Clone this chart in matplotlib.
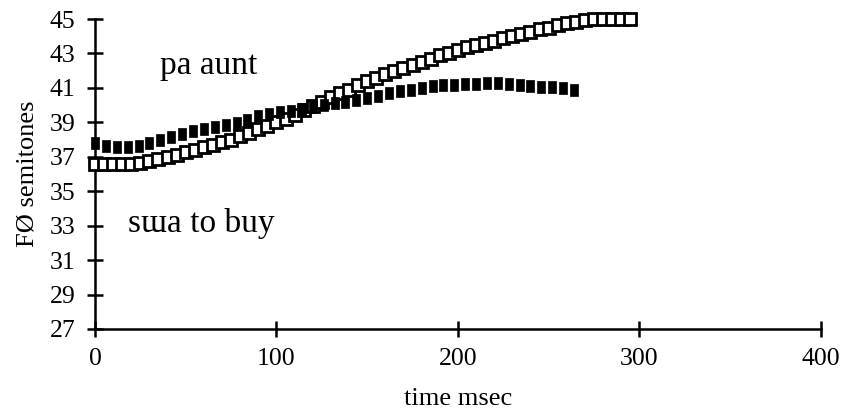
import matplotlib
matplotlib.use("Agg")
import matplotlib.pyplot as plt

plt.rcParams['font.family'] = ['Liberation Serif', 'DejaVu Serif']

# ---------- data ----------
# hollow squares (upper, rising curve)
t_open = [0, 5, 10, 15, 20, 25, 30, 35, 40, 45, 50, 55, 60, 65, 70, 75, 80, 85, 90, 95,
          100, 105, 110, 115, 120, 125, 130, 135, 140, 145, 150, 155, 160, 165, 170, 175,
          180, 185, 190, 195, 200, 205, 210, 215, 220, 225, 230, 235, 240, 245, 250, 255,
          260, 265, 270, 275, 280, 285, 290, 295]
f0_open = [36.6, 36.6, 36.6, 36.6, 36.6, 36.65, 36.75, 36.85, 37.0, 37.1, 37.25, 37.4,
           37.55, 37.7, 37.85, 38.0, 38.2, 38.4, 38.6, 38.8, 39.0, 39.2, 39.45, 39.7,
           39.95, 40.2, 40.45, 40.7, 40.9, 41.15, 41.4, 41.6, 41.8, 42.0, 42.15, 42.35,
           42.5, 42.7, 42.9, 43.05, 43.2, 43.35, 43.5, 43.6, 43.75, 43.9, 44.0, 44.15,
           44.25, 44.4, 44.5, 44.65, 44.75, 44.85, 44.95, 45.0, 45.0, 45.0, 45.0, 45.0]

# filled squares (flatter curve)
t_fill = [0, 6, 12, 18, 24, 30, 36, 42, 48, 54, 60, 66, 72, 78, 84, 90, 96, 102, 108, 114,
          120, 126, 132, 138, 144, 150, 156, 162, 168, 174, 180, 186, 192, 198, 204, 210,
          216, 222, 228, 234, 240, 246, 252, 258, 264]
f0_fill = [37.8, 37.6, 37.55, 37.55, 37.65, 37.8, 37.95, 38.15, 38.35, 38.5, 38.6, 38.75,
           38.85, 38.95, 39.15, 39.35, 39.5, 39.6, 39.65, 39.75, 39.9, 40.0, 40.1, 40.2,
           40.3, 40.4, 40.55, 40.7, 40.8, 40.9, 41.0, 41.1, 41.15, 41.15, 41.2, 41.25,
           41.3, 41.3, 41.25, 41.15, 41.1, 41.05, 41.05, 41.0, 40.9]

x_ticks = [0, 100, 200, 300, 400]
y_ticks = [27, 29, 31, 33, 35, 37, 39, 41, 43, 45]

# ---------- figure ----------
fig = plt.figure(figsize=(8.45, 4.18), dpi=100)
ax = fig.add_axes([0.1124, 0.213, 0.859, 0.7415])

# tall narrow rectangle for the filled points
rect = [(-0.36, -0.5), (0.36, -0.5), (0.36, 0.5), (-0.36, 0.5), (-0.36, -0.5)]

ax.plot(t_open, f0_open, ls='none', marker='s', ms=8.5, mfc='white', mec='black',
        mew=2.0, clip_on=False, zorder=3)
ax.plot(t_fill, f0_fill, ls='none', marker=rect, ms=8, mfc='black', mec='black',
        mew=0.5, clip_on=False, zorder=4)

ax.set_xlim(0, 400)
ax.set_ylim(27, 45)
ax.set_xticks(x_ticks)
ax.set_yticks(y_ticks)

for s in ('top', 'right'):
    ax.spines[s].set_visible(False)
for s in ('left', 'bottom'):
    ax.spines[s].set_linewidth(1.8)

ax.tick_params(direction='inout', length=12, width=1.8, labelsize=18.5)
ax.tick_params(axis='x', pad=8)
ax.tick_params(axis='y', pad=8)

ax.set_xlabel('time msec', fontsize=19, labelpad=13)
ax.set_ylabel('FØ semitones', fontsize=19, labelpad=8)

ax.text(36, 42.3, 'pa aunt', fontsize=24, va='center', ha='left')
ax.text(18, 33.1, 'sɯa to buy', fontsize=24, va='center', ha='left')

fig.savefig('out.png', dpi=100)
